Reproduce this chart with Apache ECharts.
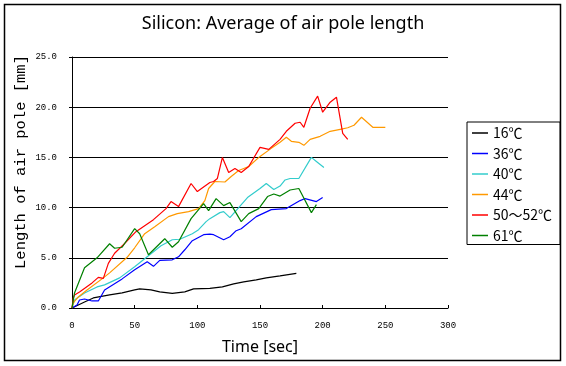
<!DOCTYPE html>
<html><head><meta charset="utf-8">
<script src="https://cdn.jsdelivr.net/npm/echarts@6/dist/echarts.min.js"></script>
<style>html,body{margin:0;padding:0;background:#fff}#c{width:566px;height:366px}</style>
</head><body><div id="c"></div>
<script>
const titleText = "Silicon: Average of air pole length";
const xName = "Time [sec]";
const yName = "Length of air pole [mm]";
const seriesNames = ["16℃", "36℃", "40℃", "44℃", "50〜52℃", "61℃"];
const seriesColors = ["#000000", "#0000FF", "#33CCCC", "#FF9900", "#FF0000", "#008000"];

const t16 = [0,10,17,30,40,50,54,63,70,80,90,97,110,120,129,137,147,155,166,179];
const v16 = [0,0.6,1.0,1.3,1.5,1.8,1.9,1.8,1.6,1.45,1.6,1.9,1.95,2.1,2.4,2.6,2.8,3.0,3.2,3.45];

const t36 = [0,4,6,10,16,21,26,40,50,60,65,70,80,85,90,96,105,110,113,121,126,131,135,147,159,171,182,186,195,200];
const v36 = [0,0.3,0.8,0.9,0.7,0.7,1.8,2.9,3.8,4.6,4.15,4.75,4.8,5.1,5.8,6.7,7.3,7.35,7.3,6.8,7.1,7.7,7.9,9.1,9.8,9.9,10.7,10.9,10.6,11.0];

const t40 = [0,2,10,20,26,38,50,61,71,80,86,96,101,107,110,118,121,126,140,150,155,161,166,170,174,181,191,195,201];
const v40 = [0,0.8,1.5,2.1,2.3,3.0,4.1,5.2,6.2,6.8,6.85,7.4,7.8,8.6,8.9,9.5,9.6,9.0,11.0,11.9,12.4,11.8,12.15,12.75,12.9,12.9,15.0,14.6,14.0];

const t44 = [0,1,5,12,25,30,44,50,58,66,77,84,93,101,106,109,114,122,127,133,141,150,159,166,171,175,181,185,190,198,206,214,220,225,231,240,250];
const v44 = [0,0.5,1.1,1.8,3.0,3.5,5.05,6.0,7.4,8.1,9.1,9.4,9.6,9.9,10.7,11.9,12.6,12.55,13.1,13.7,14.1,15.1,15.9,16.5,17.0,16.6,16.5,16.2,16.8,17.1,17.6,17.8,17.95,18.2,19.0,18.0,18.0];

const t50 = [0,1,2,6,16,21,25,29,34,41,51,65,75,79,85,95,100,110,113,116,120,125,130,135,141,150,157,166,171,178,182,185,190,196,200,206,211,216,220];
const v50 = [0,1.0,1.3,1.6,2.5,3.05,2.95,4.45,5.45,6.3,7.6,8.8,9.9,10.6,10.1,12.4,11.6,12.5,12.6,12.9,15.0,13.5,13.9,13.5,14.1,16.0,15.8,16.8,17.6,18.4,18.5,18.0,19.9,21.1,19.5,20.5,21.0,17.4,16.8];

const t61 = [0,2,10,20,30,34,40,50,54,61,74,80,85,95,105,109,115,121,126,135,141,149,156,161,166,174,181,191,195];
const v61 = [0,1.5,4.0,5.0,6.4,5.95,6.05,7.9,7.4,5.3,6.9,6.05,6.6,8.9,10.4,9.7,10.9,10.2,10.5,8.6,9.4,9.9,11.1,11.35,11.15,11.75,11.9,9.5,10.3];

const allT = [t16, t36, t40, t44, t50, t61];
const allV = [v16, v36, v40, v44, v50, v61];

const chart = echarts.init(document.getElementById('c'), null, {renderer: 'canvas'});
const series = seriesNames.map((n, i) => ({
  name: n, type: 'line', symbol: 'none', smooth: false,
  color: seriesColors[i],
  lineStyle: {color: seriesColors[i], width: 1.2},
  data: allT[i].map((t, j) => [t, allV[i][j]])
}));

chart.setOption({
  animation: false,
  backgroundColor: '#fff',
  title: {
    text: titleText, left: 'center', top: 10,
    textStyle: {fontFamily: 'Noto Sans', fontWeight: 'normal', fontSize: 18, color: '#000'}
  },
  grid: {left: 72, top: 57, right: 118, bottom: 58, containLabel: false},
  xAxis: {
    type: 'value', min: 0, max: 300, interval: 50,
    name: xName, nameLocation: 'middle', nameGap: 31,
    nameTextStyle: {fontFamily: 'Noto Sans', fontSize: 16, color: '#000'},
    axisLine: {show: true, lineStyle: {color: '#000', width: 1}},
    axisTick: {show: true, inside: true, length: 3, lineStyle: {color: '#000'}},
    axisLabel: {fontFamily: 'Liberation Mono', fontSize: 9, color: '#000', margin: 13},
    splitLine: {show: false}
  },
  yAxis: {
    type: 'value', min: 0, max: 25, interval: 5,
    axisLine: {show: true, lineStyle: {color: '#000', width: 1}},
    axisTick: {show: true, inside: false, length: 3, lineStyle: {color: '#000'}},
    axisLabel: {fontFamily: 'Liberation Mono', fontSize: 9, color: '#000', margin: 15,
      formatter: v => v.toFixed(1)},
    splitLine: {show: true, lineStyle: {color: '#000', width: 1}}
  },
  legend: {
    orient: 'vertical', left: 467, top: 122,
    padding: [4, 8, 2, 5],
    borderColor: '#000', borderWidth: 1,
    icon: 'rect', itemWidth: 16, itemHeight: 1.5, itemGap: 6.5,
    textStyle: {fontFamily: 'Noto Sans CJK JP', fontSize: 14, color: '#000', lineHeight: 14},
    data: seriesNames
  },
  graphic: [
    {type: 'rect', shape: {x: 4.5, y: 4.5, width: 556, height: 356},
     style: {fill: null, stroke: '#000', lineWidth: 1.5}, silent: true, z: 100},
    {type: 'text', x: 21, y: 162, rotation: Math.PI / 2,
     style: {text: yName, fontFamily: 'Liberation Mono', fontSize: 15.5, fill: '#000',
       textAlign: 'center', textVerticalAlign: 'middle'}}
  ],
  series: series
});
</script></body></html>
